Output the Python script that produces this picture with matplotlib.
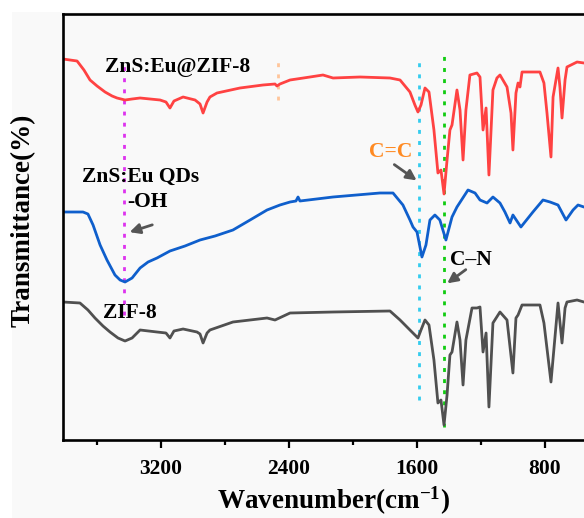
import numpy as np
import matplotlib
matplotlib.use("Agg")
import matplotlib.pyplot as plt
from matplotlib.patches import Rectangle

plt.rcParams['font.family'] = ['Liberation Serif', 'DejaVu Serif']
plt.rcParams['font.weight'] = 'bold'
plt.rcParams['mathtext.fontset'] = 'custom'
plt.rcParams['mathtext.rm'] = 'Liberation Serif:bold'
plt.rcParams['mathtext.bf'] = 'Liberation Serif:bold'
plt.rcParams['mathtext.default'] = 'bf'

# ZnS:Eu@ZIF-8 (offset spectrum, arbitrary units)
wn_red = [3813, 3725, 3682, 3644, 3600, 3550, 3506, 3475, 3425, 3381, 3331, 3206,
          3169, 3144, 3119, 3062, 2987, 2956, 2937, 2912, 2894, 2850, 2706, 2562,
          2487, 2475, 2456, 2393, 2268, 2187, 2124, 1955, 1768, 1705, 1643, 1612,
          1593, 1574, 1549, 1524, 1493, 1468, 1449, 1430, 1411, 1393, 1380, 1349,
          1330, 1311, 1293, 1268, 1224, 1205, 1186, 1167, 1149, 1124, 1099, 1080,
          1036, 1011, 999, 980, 967, 955, 942, 880, 830, 805, 786, 761,
          748, 717, 705, 692, 673, 661, 598, 555, 400]
t_red = [381, 379, 370, 360, 354, 348, 344, 342, 340, 341, 342, 340,
         338, 332, 339, 343, 340, 336, 327, 338, 343, 347, 352, 355,
         356, 354, 356, 360, 363, 365, 362, 363, 362, 360, 348, 335,
         328, 335, 352, 348, 310, 267, 270, 246, 280, 310, 315, 350,
         330, 280, 330, 365, 367, 363, 310, 332, 265, 350, 362, 365,
         353, 327, 290, 347, 357, 353, 368, 368, 368, 357, 327, 283,
         343, 372, 353, 322, 360, 373, 378, 377, 378]

# ZnS:Eu QDs
wn_blue = [3813, 3688, 3657, 3625, 3581, 3538, 3488, 3456, 3425, 3381, 3331, 3281,
           3225, 3144, 3050, 2956, 2862, 2750, 2643, 2537, 2456, 2393, 2356, 2343,
           2331, 2124, 1831, 1749, 1687, 1643, 1624, 1599, 1568, 1543, 1518, 1487,
           1456, 1418, 1380, 1349, 1280, 1236, 1205, 1161, 1124, 1080, 1049, 1017,
           999, 949, 874, 811, 767, 717, 667, 623, 592, 555, 400]
t_blue = [228, 228, 226, 215, 195, 180, 165, 160, 158, 162, 172, 178,
          182, 189, 194, 200, 204, 210, 220, 230, 235, 238, 239, 243,
          239, 243, 247, 247, 235, 220, 213, 208, 183, 195, 220, 225,
          220, 200, 223, 233, 250, 247, 240, 237, 243, 237, 228, 217,
          225, 213, 228, 240, 238, 235, 220, 230, 235, 233, 233]

# ZIF-8
wn_gray = [3813, 3707, 3657, 3613, 3563, 3519, 3469, 3425, 3381, 3331, 3225, 3169,
           3144, 3119, 3062, 2975, 2956, 2937, 2912, 2894, 2750, 2537, 2487, 2393,
           2124, 1768, 1705, 1643, 1593, 1574, 1549, 1524, 1493, 1468, 1449, 1430,
           1411, 1393, 1380, 1349, 1330, 1311, 1293, 1255, 1224, 1205, 1186, 1167,
           1149, 1124, 1080, 1036, 999, 980, 967, 942, 830, 805, 761, 717,
           692, 673, 661, 598, 555, 400]
t_gray = [138, 137, 130, 122, 114, 108, 102, 99, 102, 110, 108, 107,
          102, 109, 111, 108, 106, 97, 107, 110, 118, 122, 120, 127,
          128, 129, 120, 110, 102, 110, 120, 115, 80, 37, 40, 15,
          45, 85, 88, 118, 100, 55, 100, 132, 132, 133, 88, 107,
          33, 117, 128, 120, 67, 122, 125, 135, 135, 117, 58, 137,
          97, 132, 138, 140, 138, 138]

# marker lines: wavenumber, y from, y to, colour
mark_wn = [3431, 1587, 1430, 2468]
mark_y0 = [125, 40, 13, 340]
mark_y1 = [375, 378, 390, 380]
mark_col = ['#dd33ee', '#33ccee', '#11cc11', '#ffc59a']

xticks_major = [3200, 2400, 1600, 800]
xticks_minor = [3600, 2800, 2000, 1200, 400]

fig = plt.figure(figsize=(5.84, 5.18), dpi=100)
fig.patches.append(Rectangle((12 / 584, 0), 1, 1 - 12 / 518, transform=fig.transFigure,
                             facecolor='#f9f9f9', edgecolor='none', zorder=-5))
ax = fig.add_axes([63 / 584, 78 / 518, 545.7 / 584, 426 / 518])
ax.set_facecolor('none')

for w, a, b, c in zip(mark_wn, mark_y0, mark_y1, mark_col):
    ax.plot([w, w], [a, b], color=c, lw=2, ls=(0, (1.4, 2.6)), zorder=1)

ax.plot(wn_red, t_red, color='#ff4242', lw=2.0, zorder=2)
ax.plot(wn_blue, t_blue, color='#0f5fcc', lw=2.0, zorder=2)
ax.plot(wn_gray, t_gray, color='#505050', lw=2.0, zorder=2)

fs = 15.5
ax.text(3550, 373, 'ZnS:Eu@ZIF-8', fontsize=fs, fontweight='bold', va='center', ha='left')
ax.text(3694, 263, 'ZnS:Eu QDs', fontsize=fs, fontweight='bold', va='center', ha='left')
ax.text(3413, 238, '-OH', fontsize=fs, fontweight='bold', va='center', ha='left')
ax.text(3563, 127, 'ZIF-8', fontsize=fs, fontweight='bold', va='center', ha='left')
ax.text(1899, 288, 'C=C', fontsize=fs, fontweight='bold', va='center', ha='left', color='#ff8a22')
ax.text(1393, 180, 'C\u2013N', fontsize=fs, fontweight='bold', va='center', ha='left')

arrow = dict(arrowstyle='-|>,head_length=0.6,head_width=0.3', color='#555555', lw=2)
ax.annotate('', xy=(3413, 207), xytext=(3238, 216), arrowprops=arrow)
ax.annotate('', xy=(1587, 258), xytext=(1755, 277), arrowprops=arrow)
ax.annotate('', xy=(1424, 155), xytext=(1280, 172), arrowprops=arrow)

ax.set_xlim(3813, 400)
ax.set_ylim(0, 426)
ax.set_xticks(xticks_major)
ax.set_xticks(xticks_minor, minor=True)
ax.set_xticklabels([str(v) for v in xticks_major], fontsize=15.5, fontweight='bold')
ax.set_yticks([])
ax.tick_params(axis='x', which='major', direction='out', length=6, width=1.6, pad=8)
ax.tick_params(axis='x', which='minor', direction='out', length=3.5, width=1.6)
for s in ['left', 'top', 'bottom', 'right']:
    ax.spines[s].set_linewidth(1.9)

fig.text(23 / 584, 1 - 220 / 518, 'Transmittance(%)', rotation=90, fontsize=19.5,
         fontweight='bold', ha='center', va='center')
fig.text(333 / 584, 1 - 501 / 518, 'Wavenumber(cm$^{-1}$)', fontsize=19.5,
         fontweight='bold', ha='center', va='center')

fig.savefig('out.png', dpi=100)
